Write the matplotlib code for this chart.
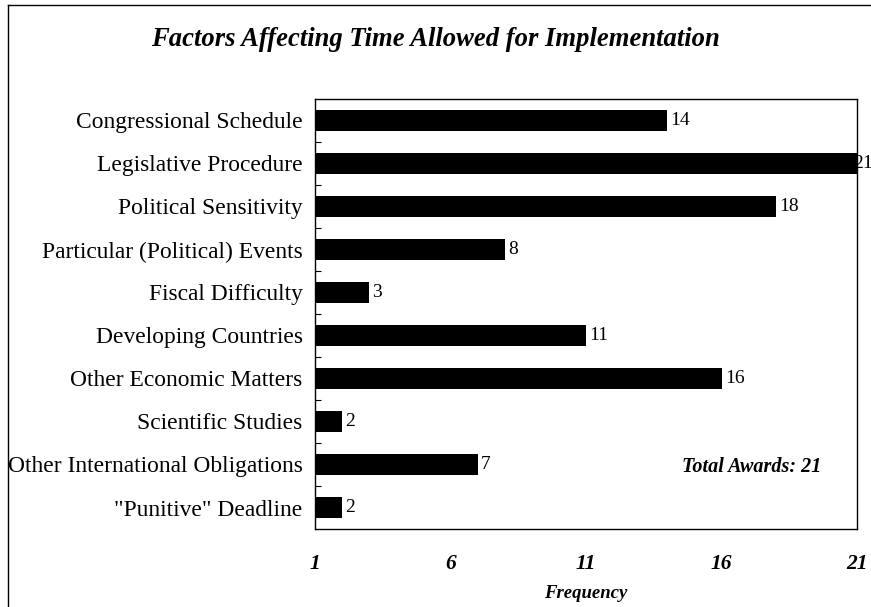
import numpy as np
import matplotlib
matplotlib.use("Agg")
import matplotlib.pyplot as plt
from matplotlib.lines import Line2D

categories = ['Congressional Schedule', 'Legislative Procedure', 'Political Sensitivity',
              'Particular (Political) Events', 'Fiscal Difficulty', 'Developing Countries',
              'Other Economic Matters', 'Scientific Studies', 'Other International Obligations',
              '"Punitive" Deadline']
counts = [14, 21, 18, 8, 3, 11, 16, 2, 7, 2]
xticks = [1, 6, 11, 16, 21]

plt.rcParams['font.family'] = ['Liberation Serif', 'DejaVu Serif']

fig = plt.figure(figsize=(8.71, 6.07), dpi=100)
ax = fig.add_axes([315/871, 1-529/607, (857-315)/871, (529-99)/607])

y = np.arange(len(categories))
ax.barh(y, counts, left=0, height=0.5, color='black')
ax.set_ylim(len(categories) - 0.5, -0.5)
ax.set_xlim(1, 21)

# value labels; the one at the axis end overlaps the frame like the original
for yi, v in zip(y, counts):
    xpos = min(v + 0.12, 20.85)
    ax.text(xpos, yi, str(v), va='center', ha='left', fontsize=14, clip_on=False)

ax.set_yticks(y)
ax.set_yticklabels(categories, fontsize=16.9)
ax.set_yticks(np.arange(-0.5, len(categories), 1.0)[1:-1], minor=True)
ax.tick_params(axis='y', which='major', length=0, pad=9)
ax.tick_params(axis='y', which='minor', direction='in', length=4, width=0.8)
ax.set_xticks(xticks)
ax.set_xticklabels([str(t) for t in xticks], fontsize=15.5, fontweight='bold', fontstyle='italic')
ax.tick_params(axis='x', length=0, pad=18)
ax.set_xlabel('Frequency', fontsize=13.5, fontweight='bold', fontstyle='italic', labelpad=8)

for s in ax.spines.values():
    s.set_linewidth(1.0)

ax.text(0.935, 8.05, 'Total Awards: 21', transform=ax.get_yaxis_transform(), fontsize=14.5,
        fontweight='bold', fontstyle='italic', ha='right', va='center')

fig.text(435/871, 1-40/607, 'Factors Affecting Time Allowed for Implementation',
         ha='center', va='center', fontsize=19.2, fontweight='bold', fontstyle='italic')

# outer frame
fig.add_artist(Line2D([8/871, 1.0], [1-5/607, 1-5/607], transform=fig.transFigure,
                      color='black', linewidth=1.0))
fig.add_artist(Line2D([8/871, 8/871], [0.0, 1-5/607], transform=fig.transFigure,
                      color='black', linewidth=1.0))

fig.savefig('out.png', dpi=100)
